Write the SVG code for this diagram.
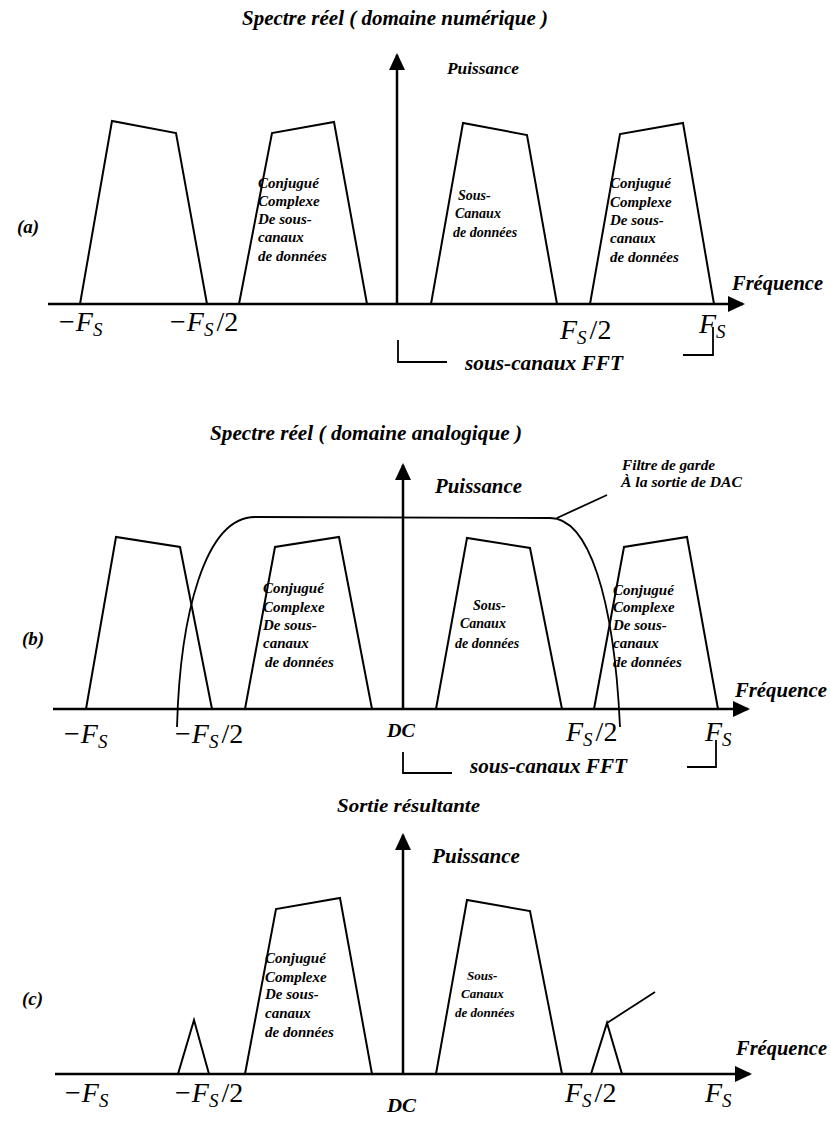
<svg xmlns="http://www.w3.org/2000/svg" width="831" height="1121" viewBox="0 0 831 1121">
  <defs>
    <marker id="head" markerUnits="userSpaceOnUse" markerWidth="18" markerHeight="18" viewBox="0 0 18 18" refX="15" refY="8" orient="auto">
      <path d="M0,0 L17,8 L0,16 Z" fill="#000"/>
    </marker>
    <style>
      .ln { fill: none; stroke: #000; stroke-width: 2; stroke-linejoin: miter; }
      .ax { fill: none; stroke: #000; stroke-width: 2.5; marker-end: url(#head); }
      .thin { fill: none; stroke: #000; stroke-width: 1.8; }
      .t { font-family: "Liberation Serif", "Times New Roman", serif; font-style: italic; font-weight: bold; fill: #000; }
      .ttl { font-size: 20px; }
      .pw { font-size: 20px; }
      .fr { font-size: 20px; }
      .lab { font-size: 19px; }
      .sm { font-size: 15px; }
      .xs { font-size: 14px; }
      .m { font-family: "Liberation Serif", "Times New Roman", serif; font-size: 28px; fill: #000; }
      .i { font-style: italic; }
      .sub { font-style: italic; font-size: 19px; }
    </style>
  </defs>
  <rect width="831" height="1121" fill="#fff"/>

  <!-- ===== Panel (a): digital-domain real spectrum ===== -->
  <g id="panel-a">
    <text class="t ttl" x="242" y="25" textLength="306" lengthAdjust="spacingAndGlyphs">Spectre réel ( domaine numérique )</text>
    <text class="t" x="447" y="74" font-size="17" textLength="72" lengthAdjust="spacingAndGlyphs">Puissance</text>
    <text class="t lab" x="17" y="233">(a)</text>
    <text class="t fr" x="732" y="290" textLength="91" lengthAdjust="spacingAndGlyphs">Fréquence</text>

    <g id="a-band1">
      <polyline class="ln" points="80,304 112,121 176,133 207,304"/>
    </g>
    <g id="a-band2">
      <polyline class="ln" points="239,304 272,133 334,122 367,304"/>
      <text class="t sm"><tspan x="258" y="188">Conjugué</tspan><tspan x="258" y="206">Complexe</tspan><tspan x="258" y="224">De sous-</tspan><tspan x="258" y="242">canaux</tspan><tspan x="258" y="261">de données</tspan></text>
    </g>
    <g id="a-band3">
      <polyline class="ln" points="431,304 463,123 527,135 557,304"/>
      <text class="t xs"><tspan x="458" y="200">Sous-</tspan><tspan x="455" y="218">Canaux</tspan><tspan x="453" y="237">de données</tspan></text>
    </g>
    <g id="a-band4">
      <polyline class="ln" points="590,304 620,134 683,123 714,304"/>
      <text class="t sm"><tspan x="610" y="188">Conjugué</tspan><tspan x="610" y="207">Complexe</tspan><tspan x="610" y="225">De sous-</tspan><tspan x="610" y="243">canaux</tspan><tspan x="610" y="262">de données</tspan></text>
    </g>

    <g id="a-ticks">
      <text class="m" x="59" y="331">−<tspan class="i" dx="1">F</tspan><tspan class="sub" dy="5">S</tspan></text>
      <text class="m" x="170" y="331">−<tspan class="i" dx="1">F</tspan><tspan class="sub" dy="5">S</tspan><tspan dx="3" dy="-5">/2</tspan></text>
      <text class="m" x="560" y="339"><tspan class="i">F</tspan><tspan class="sub" dy="5">S</tspan><tspan dx="3" dy="-5">/2</tspan></text>
      <text class="m" x="699" y="333"><tspan class="i">F</tspan><tspan class="sub" dy="5">S</tspan></text>
    </g>
    <g id="a-fft">
      <text class="t fr" x="465" y="370" textLength="158" lengthAdjust="spacingAndGlyphs">sous-canaux FFT</text>
    </g>
  </g>

  <!-- ===== Panel (b): analogue-domain real spectrum ===== -->
  <g id="panel-b">
    <text class="t ttl" x="210" y="440" textLength="312" lengthAdjust="spacingAndGlyphs">Spectre réel ( domaine analogique )</text>
    <text class="t pw" x="435" y="493" textLength="87" lengthAdjust="spacingAndGlyphs">Puissance</text>
    <text class="t lab" x="22" y="645">(b)</text>
    <text class="t fr" x="735" y="697" textLength="92" lengthAdjust="spacingAndGlyphs">Fréquence</text>

    <g id="b-band1">
      <polyline class="ln" points="86,709 116,537 180,547 212,709"/>
    </g>
    <g id="b-band2">
      <polyline class="ln" points="245,709 275,547 339,537 372,709"/>
      <text class="t sm"><tspan x="263" y="593">Conjugué</tspan><tspan x="263" y="612">Complexe</tspan><tspan x="263" y="630">De sous-</tspan><tspan x="263" y="648">canaux</tspan><tspan x="265" y="667">de données</tspan></text>
    </g>
    <g id="b-band3">
      <polyline class="ln" points="436,709 467,538 530,548 562,709"/>
      <text class="t xs"><tspan x="473" y="610">Sous-</tspan><tspan x="460" y="628">Canaux</tspan><tspan x="455" y="648">de données</tspan></text>
    </g>
    <g id="b-band4">
      <polyline class="ln" points="594,709 624,547 687,537 718,709"/>
      <text class="t sm"><tspan x="613" y="595">Conjugué</tspan><tspan x="613" y="612">Complexe</tspan><tspan x="613" y="630">De sous-</tspan><tspan x="613" y="648">canaux</tspan><tspan x="613" y="667">de données</tspan></text>
    </g>

    <g id="b-filter">
      <path class="thin" d="M177,727 C180,615 205,517 255,517 L550,518 C588,518 614,595 620,727"/>
      <text class="t" font-size="14" x="622" y="470" textLength="93" lengthAdjust="spacingAndGlyphs">Filtre de garde</text>
      <text class="t" font-size="14" x="621" y="487" textLength="121" lengthAdjust="spacingAndGlyphs">À la sortie de DAC</text>
    </g>

    <g id="b-ticks">
      <text class="m" x="64" y="743">−<tspan class="i" dx="1">F</tspan><tspan class="sub" dy="5">S</tspan></text>
      <text class="m" x="175" y="743">−<tspan class="i" dx="1">F</tspan><tspan class="sub" dy="5">S</tspan><tspan dx="3" dy="-5">/2</tspan></text>
      <text class="t" font-size="18" x="387" y="737" textLength="28" lengthAdjust="spacingAndGlyphs">DC</text>
      <text class="m" x="566" y="741"><tspan class="i">F</tspan><tspan class="sub" dy="5">S</tspan><tspan dx="3" dy="-5">/2</tspan></text>
      <text class="m" x="705" y="741"><tspan class="i">F</tspan><tspan class="sub" dy="5">S</tspan></text>
    </g>
    <g id="b-fft">
      <text class="t fr" x="470" y="773" textLength="157" lengthAdjust="spacingAndGlyphs">sous-canaux FFT</text>
    </g>
  </g>

  <!-- ===== Panel (c): resulting output ===== -->
  <g id="panel-c">
    <text class="t" font-size="19" x="337" y="812" textLength="143" lengthAdjust="spacingAndGlyphs">Sortie résultante</text>
    <text class="t pw" x="432" y="863" textLength="88" lengthAdjust="spacingAndGlyphs">Puissance</text>
    <text class="t lab" x="22" y="1005">(c)</text>
    <text class="t fr" x="736" y="1055" textLength="91" lengthAdjust="spacingAndGlyphs">Fréquence</text>

    <g id="c-alias-left">
      <polyline class="ln" points="178,1074 194,1020 209,1074"/>
    </g>
    <g id="c-band2">
      <polyline class="ln" points="245,1074 276,909 340,898 372,1074"/>
      <text class="t sm"><tspan x="265" y="963">Conjugué</tspan><tspan x="265" y="982">Complexe</tspan><tspan x="265" y="999">De sous-</tspan><tspan x="265" y="1018">canaux</tspan><tspan x="265" y="1037">de données</tspan></text>
    </g>
    <g id="c-band3">
      <polyline class="ln" points="436,1074 467,900 530,911 562,1074"/>
      <text class="t" font-size="13"><tspan x="467" y="980">Sous-</tspan><tspan x="461" y="998">Canaux</tspan><tspan x="455" y="1017">de données</tspan></text>
    </g>
    <g id="c-alias-right">
      <polyline class="ln" points="591,1074 607,1023 622,1074"/>
    </g>

    <g id="c-ticks">
      <text class="m" x="65" y="1102">−<tspan class="i" dx="1">F</tspan><tspan class="sub" dy="5">S</tspan></text>
      <text class="m" x="175" y="1102">−<tspan class="i" dx="1">F</tspan><tspan class="sub" dy="5">S</tspan><tspan dx="3" dy="-5">/2</tspan></text>
      <text class="t" font-size="18" x="387" y="1112" textLength="29" lengthAdjust="spacingAndGlyphs">DC</text>
      <text class="m" x="565" y="1102"><tspan class="i">F</tspan><tspan class="sub" dy="5">S</tspan><tspan dx="3" dy="-5">/2</tspan></text>
      <text class="m" x="705" y="1102"><tspan class="i">F</tspan><tspan class="sub" dy="5">S</tspan></text>
    </g>
  </g>

  <!-- ===== Axes, brackets and leader lines ===== -->
  <g id="connectors">
    <!-- panel (a) -->
    <line class="ax" x1="48" y1="304" x2="743" y2="304"/>
    <line class="ax" x1="397" y1="304" x2="397" y2="55"/>
    <path class="thin" d="M398,340 V362 H447"/>
    <path class="thin" d="M683,355 H713 V327"/>
    <!-- panel (b) -->
    <line class="ax" x1="53" y1="709" x2="748" y2="709"/>
    <line class="ax" x1="403" y1="709" x2="403" y2="465"/>
    <path class="thin" d="M403,752 V773 H452"/>
    <path class="thin" d="M687,767 H716 V740"/>
    <line class="thin" x1="557" y1="518" x2="607" y2="495"/>
    <!-- panel (c) -->
    <line class="ax" x1="55" y1="1074" x2="750" y2="1074"/>
    <line class="ax" x1="403" y1="1074" x2="403" y2="835"/>
    <line class="thin" x1="607" y1="1023" x2="655" y2="992"/>
  </g>
</svg>
